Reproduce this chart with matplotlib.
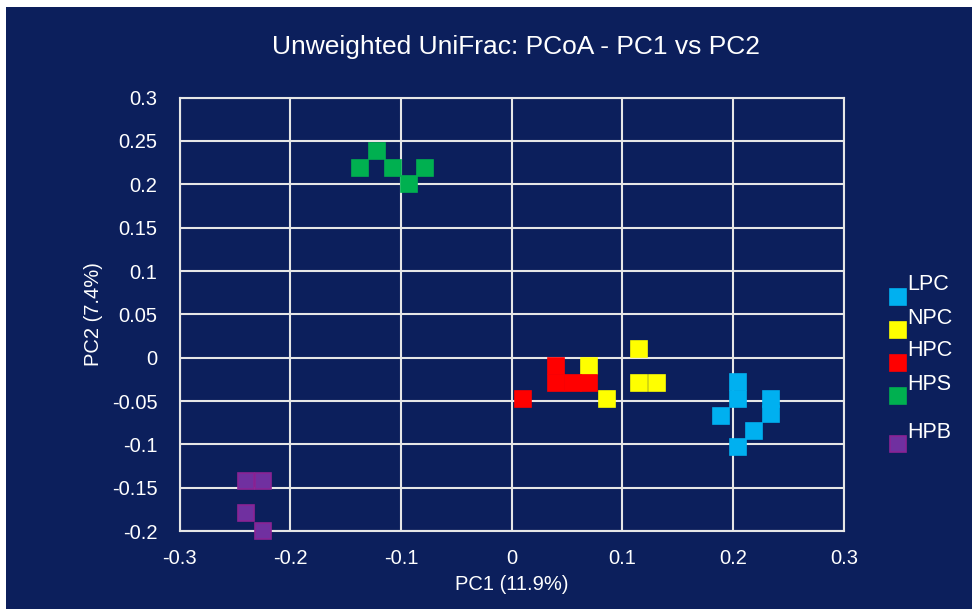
import matplotlib
matplotlib.use('Agg')
from matplotlib import pyplot as plt
from matplotlib.patches import Rectangle
from matplotlib.lines import Line2D
from matplotlib.ticker import FuncFormatter
import numpy as np

plt.rcParams['font.family'] = ['Liberation Sans', 'DejaVu Sans']

# data
groups = ['LPC', 'NPC', 'HPC', 'HPS', 'HPB']
colors = ['#00B0F0', '#FFFF00', '#FF0000', '#00B050', '#7030A0']
edges = ['#00B0F0', '#FFFF00', '#FF0000', '#00B050', '#8A2394']

lpc_x = [0.204, 0.204, 0.189, 0.234, 0.234, 0.219, 0.204]
lpc_y = [-0.028, -0.048, -0.067, -0.048, -0.065, -0.085, -0.103]
npc_x = [0.070, 0.086, 0.115, 0.115, 0.131]
npc_y = [-0.010, -0.048, 0.010, -0.029, -0.029]
hpc_x = [0.010, 0.040, 0.040, 0.055, 0.070]
hpc_y = [-0.048, -0.010, -0.029, -0.029, -0.029]
hps_x = [-0.137, -0.122, -0.107, -0.093, -0.078]
hps_y = [0.219, 0.238, 0.219, 0.200, 0.219]
hpb_x = [-0.240, -0.225, -0.240, -0.225]
hpb_y = [-0.142, -0.142, -0.179, -0.200]

xs = [lpc_x, npc_x, hpc_x, hps_x, hpb_x]
ys = [lpc_y, npc_y, hpc_y, hps_y, hpb_y]

xticks = np.arange(-0.3, 0.31, 0.1)
yticks = np.arange(-0.2, 0.301, 0.05)

navy = '#0c1f5c'
W, H = 972, 609

fig = plt.figure(figsize=(9.72, 6.09), dpi=100)
fig.patch.set_facecolor('white')
# white strip on top and left like the screenshot
fig.patches.append(Rectangle((6 / W, 0), 1, (H - 7) / H, transform=fig.transFigure,
                             facecolor=navy, edgecolor='none', zorder=-10))

ax = fig.add_axes([0.1848, 0.1279, 0.6833, 0.7118])
ax.set_facecolor(navy)

for g, x, y, c, e in zip(groups, xs, ys, colors, edges):
    ax.plot(x, y, linestyle='none', marker='s', markersize=12, markerfacecolor=c,
            markeredgecolor=e, markeredgewidth=1.2, label=g, clip_on=False, zorder=3)

ax.set_xlim(-0.3, 0.3)
ax.set_ylim(-0.2, 0.3)
ax.set_xticks(xticks)
ax.set_yticks(yticks)
fmt = FuncFormatter(lambda v, p: '0' if abs(v) < 1e-9 else ('%.2f' % v).rstrip('0'))
ax.xaxis.set_major_formatter(fmt)
ax.yaxis.set_major_formatter(fmt)
ax.tick_params(axis='both', length=0, colors='white', labelsize=14.5)
ax.tick_params(axis='x', pad=13)
ax.tick_params(axis='y', pad=16)
ax.grid(True, color='#e6e6e6', linewidth=1.5, zorder=0)
ax.set_axisbelow(True)
for s in ax.spines.values():
    s.set_color('#e6e6e6')
    s.set_linewidth(1.5)

ax.set_xlabel('PC1 (11.9%)', color='white', fontsize=14.5, labelpad=5)
ax.set_ylabel('PC2 (7.4%)', color='white', fontsize=14.5, labelpad=6)
fig.text(516.5 / W, 1 - 47 / H, 'Unweighted UniFrac: PCoA - PC1 vs PC2', color='white',
         fontsize=19, ha='center', va='center')

# legend drawn by hand: Excel puts the text a bit above each swatch
leg_y = [297, 330, 363, 396, 444]
for g, c, e, py in zip(groups, colors, edges, leg_y):
    fig.add_artist(Line2D([898 / W], [1 - py / H], transform=fig.transFigure,
                          linestyle='none', marker='s', markersize=12, markerfacecolor=c,
                          markeredgecolor=e, markeredgewidth=1.2))
    fig.text(907 / W, 1 - (py - 12) / H, g, color='white', fontsize=15.5,
             ha='left', va='center')

fig.savefig('out.png', dpi=100, facecolor=fig.get_facecolor())
